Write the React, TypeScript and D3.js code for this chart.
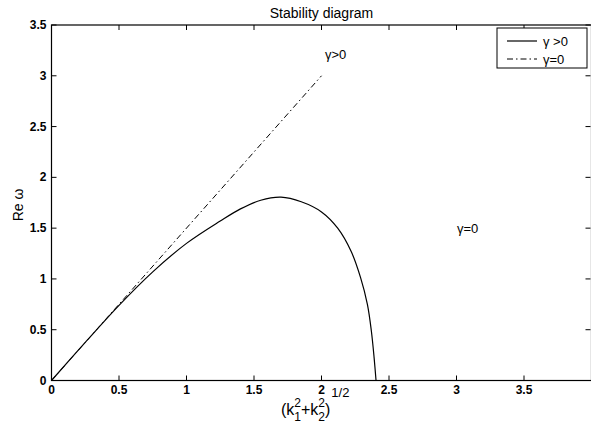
import React from "react";
import * as d3 from "d3";

const kGrowth: number[] = [0, 0.25, 0.5, 0.75, 1.0, 1.25, 1.4, 1.55, 1.7, 1.85, 2.0, 2.12, 2.22, 2.29, 2.34, 2.37, 2.39, 2.404];
const reGrowth: number[] = [0, 0.375, 0.74, 1.07, 1.35, 1.57, 1.69, 1.775, 1.805, 1.76, 1.66, 1.5, 1.27, 1.01, 0.75, 0.48, 0.22, 0];
const kTail: number[] = [2.404, 4.0];
const reTail: number[] = [0, 0];
const kNeutral: number[] = [0, 2];
const reNeutral: number[] = [0, 3];
const xTicks: number[] = [0, 0.5, 1, 1.5, 2, 2.5, 3, 3.5];
const yTicks: number[] = [0, 0.5, 1, 1.5, 2, 2.5, 3, 3.5];
const legendLabels: string[] = ["γ >0", "γ=0"];

const W = 591, H = 424;
const L = 51.5, R = 591.5, T = 25, B = 380.5;

export default function App() {
  const x = d3.scaleLinear().domain([0, 4]).range([L, R]);
  const y = d3.scaleLinear().domain([0, 3.5]).range([B, T]);
  const line = d3.line<[number, number]>().x(d => x(d[0])).y(d => y(d[1])).curve(d3.curveCatmullRom.alpha(0.5));
  const lineLin = d3.line<[number, number]>().x(d => x(d[0])).y(d => y(d[1]));
  const growth: [number, number][] = kGrowth.map((k, i) => [k, reGrowth[i]]);
  const tail: [number, number][] = kTail.map((k, i) => [k, reTail[i]]);
  const neutral: [number, number][] = kNeutral.map((k, i) => [k, reNeutral[i]]);
  const font = "'Liberation Sans', Arial, Helvetica, sans-serif";
  const tl = 5;
  return (
    <svg width={W} height={H} style={{ position: "absolute", left: 0, top: 0, background: "#fff" }} fontFamily={font}>
      <rect x={0} y={0} width={W} height={H} fill="#fff" />
      <text x={(L + R) / 2} y={18} textAnchor="middle" fontSize={14}>Stability diagram</text>
      {/* curves */}
      <path d={lineLin(neutral) || ""} fill="none" stroke="#000" strokeWidth={1} strokeDasharray="6,3,1.5,3" />
      <path d={line(growth) || ""} fill="none" stroke="#000" strokeWidth={1.2} />
      <path d={lineLin(tail) || ""} fill="none" stroke="#000" strokeWidth={1.2} />
      {/* frame */}
      <rect x={L} y={T} width={R - L} height={B - T} fill="none" stroke="#000" strokeWidth={1.2} />
      {xTicks.map(t => (
        <g key={"x" + t}>
          <line x1={x(t)} x2={x(t)} y1={B} y2={B - tl} stroke="#000" />
          <line x1={x(t)} x2={x(t)} y1={T} y2={T + tl} stroke="#000" />
          <text x={x(t)} y={394} textAnchor="middle" fontSize={12} fontWeight="bold">{String(t)}</text>
        </g>
      ))}
      {yTicks.map(t => (
        <g key={"y" + t}>
          <line x1={L} x2={L + tl} y1={y(t)} y2={y(t)} stroke="#000" />
          <line x1={R - 1} x2={R - 1 - tl} y1={y(t)} y2={y(t)} stroke="#000" />
          <text x={L - 5} y={y(t) + 4} textAnchor="end" fontSize={12} fontWeight="bold">{String(t)}</text>
        </g>
      ))}
      {/* axis labels */}
      <text transform={`translate(23,205) rotate(-90)`} textAnchor="middle" fontSize={14}>Re ω</text>
      <text x={281} y={415} fontSize={16}>
        <tspan>(k</tspan>
        <tspan fontSize={12} dy={-8}>2</tspan>
        <tspan fontSize={12} dx={-6.7} dy={14}>1</tspan>
        <tspan dy={-6}>+k</tspan>
        <tspan fontSize={12} dy={-8}>2</tspan>
        <tspan fontSize={12} dx={-6.7} dy={14}>2</tspan>
        <tspan dy={-6}>)</tspan>
        <tspan fontSize={13} dx={1} dy={-18}>1/2</tspan>
      </text>
      {/* annotations */}
      <text x={325} y={59} fontSize={13}>γ&gt;0</text>
      <text x={457} y={233} fontSize={13}>γ=0</text>
      {/* legend */}
      <rect x={497} y={28} width={90} height={40} fill="#fff" stroke="#000" strokeWidth={1} />
      <line x1={507} x2={537} y1={41} y2={41} stroke="#000" strokeWidth={1.2} />
      <line x1={507} x2={537} y1={59} y2={59} stroke="#000" strokeWidth={1} strokeDasharray="6,3,1.5,3" />
      <text x={543} y={46} fontSize={13}>{legendLabels[0]}</text>
      <text x={543} y={64} fontSize={13}>{legendLabels[1]}</text>
    </svg>
  );
}
